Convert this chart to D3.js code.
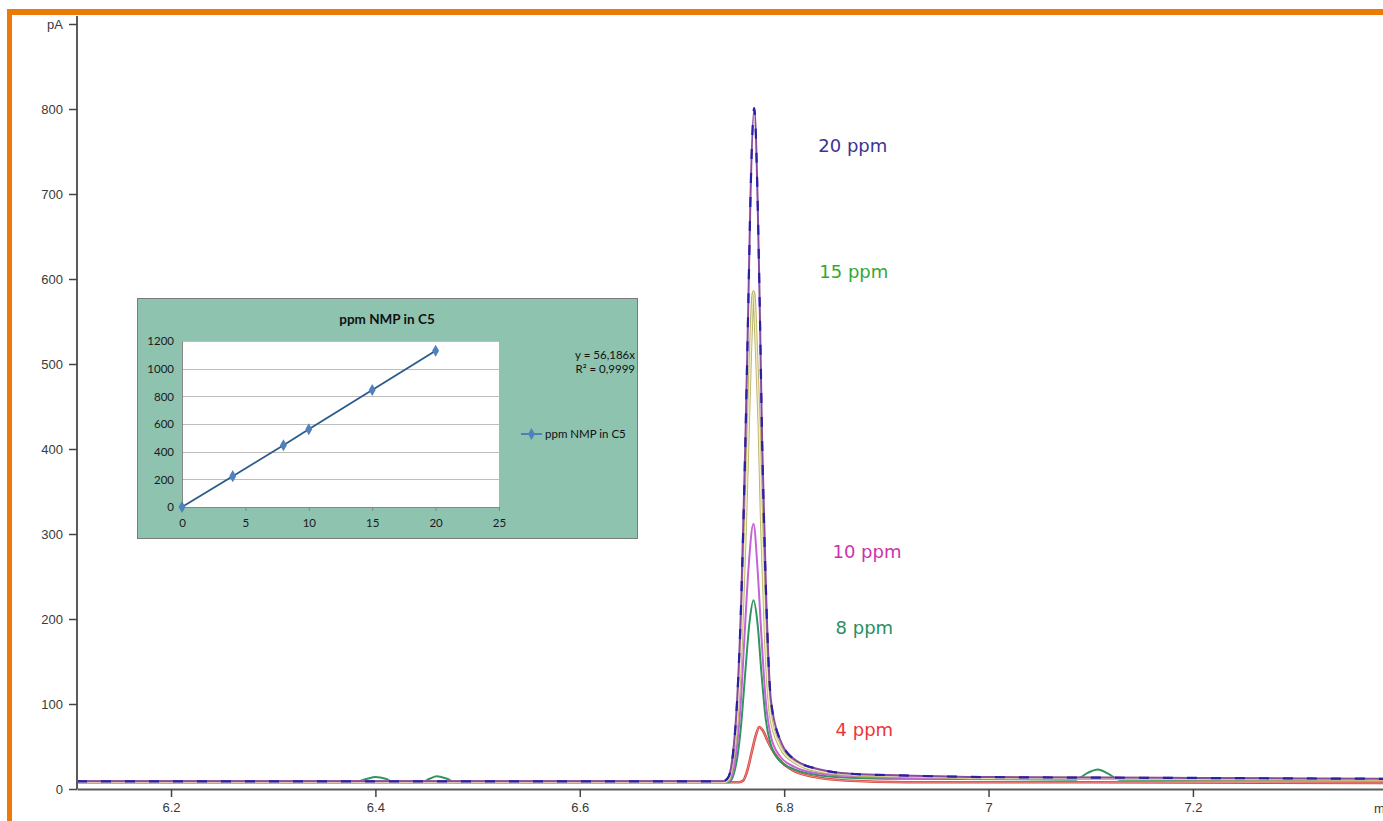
<!DOCTYPE html>
<html>
<head>
<meta charset="utf-8">
<script src="https://cdn.jsdelivr.net/npm/d3@7"></script>
<style>
  body { margin: 0; background: #fff; }
  svg { display: block; }
</style>
</head>
<body>
<div id="chart"></div>
<script>
// chromatogram traces, [minutes, pA]
var trace4 = [[6.108,8],[6.756,8],[6.760,10],[6.764,22],[6.768,42],[6.772,62],[6.7756,73],[6.779,69],[6.784,56],[6.790,43],[6.798,31],[6.810,21],[6.830,14],[6.860,10],[6.920,8],[7.100,8],[7.386,7]];
var trace8 = [[6.108,8],[6.380,8],[6.392,12],[6.400,14],[6.410,12],[6.418,8],[6.445,8],[6.453,12],[6.460,15],[6.470,12],[6.478,8],[6.746,8],[6.750,15],[6.754,36],[6.758,77],[6.762,138],[6.766,195],[6.770,222],[6.774,194],[6.778,133],[6.782,82],[6.787,52],[6.795,34],[6.810,23],[6.835,16],[6.870,13],[6.920,12],[7.085,11],[7.097,19],[7.107,23],[7.117,18],[7.128,11],[7.386,10]];
var trace10 = [[6.108,9],[6.745,9],[6.749,16],[6.753,42],[6.757,92],[6.761,175],[6.765,258],[6.770,312],[6.774,258],[6.778,175],[6.782,103],[6.787,62],[6.795,40],[6.810,26],[6.835,18],[6.870,15],[6.920,13],[7.100,12],[7.386,11]];
var trace15 = [[6.108,8],[6.741,8],[6.746,12],[6.750,36],[6.754,82],[6.758,170],[6.762,308],[6.765,430],[6.767,512],[6.770,585],[6.773,512],[6.7755,430],[6.778,308],[6.782,170],[6.787,84],[6.796,50],[6.811,31],[6.835,21],[6.865,17],[6.914,15],[7.000,13],[7.200,12],[7.386,11]];
var trace20 = [[6.108,9],[6.740,9],[6.745,13],[6.750,42],[6.754,105],[6.758,222],[6.762,406],[6.765,575],[6.767,694],[6.7707,801],[6.774,694],[6.776,575],[6.7785,406],[6.7825,222],[6.787,105],[6.796,58],[6.811,34],[6.835,23],[6.865,18],[6.914,16],[7.000,14],[7.200,13],[7.386,12]];

var traceNames = ["4 ppm", "8 ppm", "10 ppm", "15 ppm", "20 ppm"];
var traceData = [trace4, trace8, trace10, trace15, trace20];
var traceColors = ["#d9423a", "#2f9560", "#c463d6", "#cfc98a", "#8a4a9e"];
var labelColors = ["#ee3535", "#2a8f5c", "#cc33aa", "#33a833", "#3f3294"];
// label anchor in data units [minutes, pA]
var labelPos = [[6.8503, 62], [6.8503, 182], [6.8473, 272], [6.8344, 601], [6.8334, 750]];

// axis ticks
var yMajorTicks = [0, 100, 200, 300, 400, 500, 600, 700, 800, 900];
var yTickLabels = ["0", "100", "200", "300", "400", "500", "600", "700", "800", "pA"];
var xMajorTicks = [6.2, 6.4, 6.6, 6.8, 7.0, 7.2];
var xTickLabels = ["6.2", "6.4", "6.6", "6.8", "7", "7.2"];

// inset calibration
var calibPpm = [0, 4, 8, 10, 15, 20];
var calibSignal = [0, 223, 446, 562, 846, 1130];
var insetXTicks = [0, 5, 10, 15, 20, 25];
var insetYTicks = [0, 200, 400, 600, 800, 1000, 1200];

var svg = d3.select("#chart").append("svg")
	.attr("width", 1383)
	.attr("height", 821);

var x = d3.scaleLinear().domain([6.108, 7.386]).range([77, 1383]);
var y = d3.scaleLinear().domain([0, 900]).range([789, 24]);

svg.append("clipPath").attr("id", "plotClip")
	.append("rect").attr("x", 77).attr("y", 16).attr("width", 1306).attr("height", 773);

// traces
var line = d3.line()
	.x(function(d) { return x(d[0]); })
	.y(function(d) { return y(d[1]); })
	.curve(d3.curveMonotoneX);

var traces = svg.append("g").attr("clip-path", "url(#plotClip)");

traceData.forEach(function(t, i) {
	if (i == 3) {
		// 15 ppm: pale yellow line with olive edge
		traces.append("path").attr("d", line(t))
			.style("fill", "none").style("stroke", "#b9b36a").style("stroke-width", 3.2);
		traces.append("path").attr("d", line(t))
			.style("fill", "none").style("stroke", "#f1efc4").style("stroke-width", 1.4);
	} else if (i == 0) {
		traces.append("path").attr("d", line(t))
			.style("fill", "none").style("stroke", traceColors[i]).style("stroke-width", 2.6);
		traces.append("path").attr("d", line(t))
			.style("fill", "none").style("stroke", "#f0a0a0").style("stroke-width", 0.8);
	} else {
		traces.append("path").attr("d", line(t))
			.style("fill", "none").style("stroke", traceColors[i]).style("stroke-width", 2);
	}
});
// 20 ppm navy dashes on top
traces.append("path").attr("d", line(trace20))
	.style("fill", "none")
	.style("stroke", "#2a1fa8")
	.style("stroke-width", 2.2)
	.style("stroke-dasharray", "10,14");

// y axis
var yAxis = d3.axisLeft(y).tickValues(yMajorTicks).tickSize(8).tickSizeOuter(0)
	.tickFormat(function(d, i) { return yTickLabels[i]; });
var yMinor = d3.axisLeft(y).tickValues(d3.range(0, 901, 20)).tickSize(3).tickSizeOuter(0).tickFormat("");

var gy = svg.append("g").attr("transform", "translate(77,0)");
gy.call(yMinor);
gy.call(yAxis);
gy.select(".domain").attr("d", "M0,16V789");

// x axis
var xAxis = d3.axisBottom(x).tickValues(xMajorTicks).tickSize(8).tickSizeOuter(0)
	.tickFormat(function(d, i) { return xTickLabels[i]; });
var xMinor = d3.axisBottom(x).tickValues(d3.range(6.15, 7.36, 0.05)).tickSize(3).tickSizeOuter(0).tickFormat("");

var gx = svg.append("g").attr("transform", "translate(0,789)");
gx.call(xMinor);
gx.call(xAxis);

svg.selectAll(".domain").style("stroke", "#5a5a5a").style("stroke-width", 2);
svg.selectAll(".tick line").style("stroke", "#444").style("stroke-width", 1.5);
svg.selectAll(".tick text")
	.style("font-family", "'Liberation Sans', Arial, sans-serif")
	.style("font-size", "13px")
	.style("fill", "#3a3a3a");
gy.selectAll(".tick text").attr("x", -14);
gx.selectAll(".tick text").attr("y", 14);

// axis unit at right end, cut by the window as in the original
svg.append("text")
	.attr("x", 1374).attr("y", 813)
	.style("font-family", "'Liberation Sans', Arial, sans-serif")
	.style("font-size", "13px")
	.style("fill", "#3a3a3a")
	.text("min");

// concentration labels
traceNames.forEach(function(n, i) {
	svg.append("text")
		.attr("x", x(labelPos[i][0]))
		.attr("y", y(labelPos[i][1]))
		.style("font-family", "'DejaVu Sans', Verdana, sans-serif")
		.style("font-size", "18px")
		.style("fill", labelColors[i])
		.text(n);
});

//Inset calibration chart
var inset = svg.append("g");
inset.append("rect")
	.attr("x", 137.5).attr("y", 298.5).attr("width", 500).attr("height", 240)
	.style("fill", "#8ec3b0")
	.style("stroke", "#7b7b7b")
	.style("stroke-width", 1);

var ix = d3.scaleLinear().domain([0, 25]).range([182, 499]);
var iy = d3.scaleLinear().domain([0, 1200]).range([507, 341]);

inset.append("rect")
	.attr("x", 182).attr("y", 341).attr("width", 317).attr("height", 166)
	.style("fill", "#fff");

inset.selectAll(".igrid")
	.data(insetYTicks.slice(1))
	.enter()
	.append("line")
		.attr("class", "igrid")
		.attr("x1", 182).attr("x2", 499)
		.attr("y1", function(d) { return Math.round(iy(d)) + 0.5; })
		.attr("y2", function(d) { return Math.round(iy(d)) + 0.5; })
		.style("stroke", "#bdbdbd").style("stroke-width", 1);

var insetFont = "Lato, 'Open Sans', sans-serif";

var iyAxis = d3.axisLeft(iy).tickValues(insetYTicks).tickSize(0).tickPadding(8).tickFormat(d3.format("d"));
var ixAxis = d3.axisBottom(ix).tickValues(insetXTicks).tickSize(4).tickSizeOuter(0).tickPadding(8).tickFormat(d3.format("d"));
var giy = inset.append("g").attr("transform", "translate(182,0)").call(iyAxis);
var gix = inset.append("g").attr("transform", "translate(0,507)").call(ixAxis);
inset.selectAll(".domain, .tick line").style("stroke", "#868686").style("stroke-width", 1);
inset.selectAll(".tick text")
	.style("font-family", insetFont)
	.style("font-size", "11.5px")
	.style("fill", "#1a1a1a");

var calib = calibPpm.map(function(p, i) { return [p, calibSignal[i]]; });
var iline = d3.line()
	.x(function(d) { return ix(d[0]); })
	.y(function(d) { return iy(d[1]); });

inset.append("path")
	.attr("d", iline(calib))
	.style("fill", "none")
	.style("stroke", "#2b5a8c")
	.style("stroke-width", 1.8);

var diamond = d3.symbol().type(d3.symbolDiamond).size(42);
inset.selectAll(".imark")
	.data(calib)
	.enter()
	.append("path")
		.attr("class", "imark")
		.attr("d", diamond)
		.attr("transform", function(d) { return "translate(" + ix(d[0]) + "," + iy(d[1]) + ")"; })
		.style("fill", "#4f81bd");

inset.append("text")
	.attr("x", 387).attr("y", 324)
	.style("font-family", insetFont)
	.style("font-size", "13.5px")
	.style("font-weight", 700)
	.style("text-anchor", "middle")
	.style("fill", "#111")
	.text("ppm NMP in C5");

inset.append("text")
	.attr("x", 635).attr("y", 359)
	.style("font-family", insetFont)
	.style("font-size", "11.5px")
	.style("text-anchor", "end")
	.style("fill", "#111")
	.text("y = 56,186x");
inset.append("text")
	.attr("x", 635).attr("y", 373)
	.style("font-family", insetFont)
	.style("font-size", "11.5px")
	.style("text-anchor", "end")
	.style("fill", "#111")
	.text("R² = 0,9999");

// legend
inset.append("line")
	.attr("x1", 521).attr("x2", 542).attr("y1", 434).attr("y2", 434)
	.style("stroke", "#4a78b0").style("stroke-width", 1.8);
inset.append("path")
	.attr("d", diamond)
	.attr("transform", "translate(531.5,434)")
	.style("fill", "#4f81bd");
inset.append("text")
	.attr("x", 545).attr("y", 438)
	.style("font-family", insetFont)
	.style("font-size", "11.5px")
	.style("fill", "#111")
	.text("ppm NMP in C5");

// orange frame
svg.append("rect").attr("x", 7).attr("y", 9).attr("width", 1376).attr("height", 6).style("fill", "#ec7a08");
svg.append("rect").attr("x", 7).attr("y", 9).attr("width", 5).attr("height", 812).style("fill", "#ec7a08");
</script>
</body>
</html>
